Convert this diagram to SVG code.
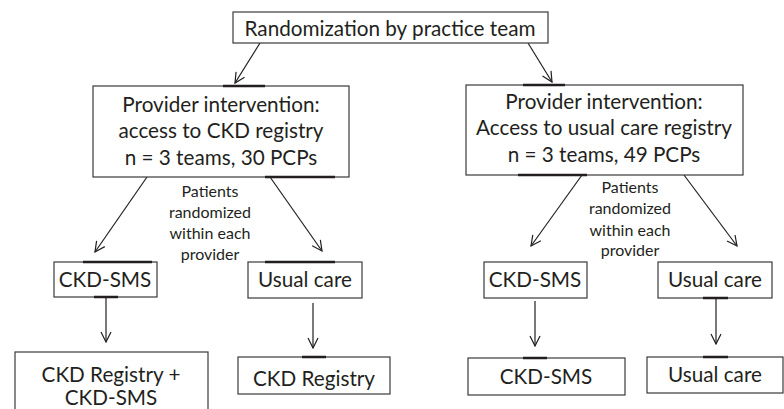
<svg xmlns="http://www.w3.org/2000/svg" width="784" height="409" viewBox="0 0 784 409">
<style>
.box{fill:#fff;stroke:#3a3a3a;stroke-width:1.2}
.t{font-family:Lato,"Liberation Sans",sans-serif;font-size:20.7px;fill:#231f20;text-anchor:middle}
.s{font-family:Lato,"Liberation Sans",sans-serif;font-size:16px;fill:#231f20;text-anchor:middle}
.c{stroke:#231f20;stroke-width:1.2;fill:none;marker-end:url(#ah)}
.dk{stroke:#231f20;stroke-width:2.5}
</style>
<defs>
<marker id="ah" viewBox="0 0 12 12" refX="11" refY="6" markerWidth="12" markerHeight="12" markerUnits="userSpaceOnUse" orient="auto">
<path d="M1,1 L11,6 L1,11" fill="none" stroke="#231f20" stroke-width="1.2"/>
</marker>
</defs>
<rect width="784" height="409" fill="#fff"/>
<g id="connectors">
<line class="c" x1="260" y1="43" x2="235" y2="83"/>
<line class="c" x1="528" y1="43" x2="552" y2="82"/>
<line class="c" x1="147" y1="177" x2="95" y2="252"/>
<line class="c" x1="270" y1="177" x2="322" y2="251"/>
<line class="c" x1="582" y1="175" x2="531" y2="246"/>
<line class="c" x1="684" y1="175" x2="737" y2="246"/>
<line class="c" x1="106" y1="297" x2="106" y2="342"/>
<line class="c" x1="313" y1="303" x2="313" y2="348"/>
<line class="c" x1="535" y1="301" x2="535" y2="346"/>
<line class="c" x1="716" y1="298" x2="716" y2="344"/>
</g>
<g id="randomization">
<rect class="box" x="233" y="12" width="315" height="31"/>
<text class="t" x="390" y="36">Randomization by practice team</text>
</g>
<g id="provider-ckd">
<rect class="box" x="93" y="86" width="256" height="91"/>
<line class="dk" x1="223" y1="86" x2="265" y2="86"/>
<line class="dk" x1="265" y1="177" x2="335" y2="177"/>
<text class="t" x="221" y="112">Provider intervention:</text>
<text class="t" x="221" y="138">access to CKD registry</text>
<text class="t" x="221" y="165">n = 3 teams, 30 PCPs</text>
</g>
<g id="label-left">
<text class="s" x="210" y="197">Patients</text>
<text class="s" x="210" y="218">randomized</text>
<text class="s" x="210" y="239">within each</text>
<text class="s" x="210" y="260">provider</text>
</g>
<g id="provider-usual">
<rect class="box" x="466" y="85" width="277" height="90"/>
<line class="dk" x1="523" y1="85" x2="565" y2="85"/>
<line class="dk" x1="518" y1="175" x2="587" y2="175"/>
<text class="t" x="604" y="109">Provider intervention:</text>
<text class="t" x="604" y="135">Access to usual care registry</text>
<text class="t" x="604" y="162">n = 3 teams, 49 PCPs</text>
</g>
<g id="label-right">
<text class="s" x="630" y="193">Patients</text>
<text class="s" x="630" y="214">randomized</text>
<text class="s" x="630" y="236">within each</text>
<text class="s" x="630" y="256">provider</text>
</g>
<g id="ckd-sms-left">
<rect class="box" x="54" y="262" width="103" height="35"/>
<line class="dk" x1="83" y1="262" x2="152" y2="262"/>
<line class="dk" x1="94" y1="297" x2="118" y2="297"/>
<text class="t" x="105" y="287">CKD-SMS</text>
</g>
<g id="usual-care-left">
<rect class="box" x="248" y="262" width="114" height="36"/>
<line class="dk" x1="265" y1="262" x2="335" y2="262"/>
<text class="t" x="305" y="287">Usual care</text>
</g>
<g id="ckd-registry-sms">
<rect class="box" x="15" y="352" width="193" height="70"/>
<text class="t" x="111" y="382">CKD Registry +</text>
<text class="t" x="111" y="405">CKD-SMS</text>
</g>
<g id="ckd-registry">
<rect class="box" x="238" y="357" width="152" height="37"/>
<line class="dk" x1="302" y1="357" x2="326" y2="357"/>
<text class="t" x="314" y="386">CKD Registry</text>
</g>
<g id="ckd-sms-right">
<rect class="box" x="484" y="262" width="103" height="36"/>
<text class="t" x="535" y="287">CKD-SMS</text>
</g>
<g id="usual-care-right">
<rect class="box" x="658" y="262" width="114" height="36"/>
<line class="dk" x1="703" y1="298" x2="728" y2="298"/>
<text class="t" x="715" y="287">Usual care</text>
</g>
<g id="ckd-sms-bottom">
<rect class="box" x="468" y="358" width="157" height="37"/>
<line class="dk" x1="523" y1="358" x2="547" y2="358"/>
<text class="t" x="546" y="384">CKD-SMS</text>
</g>
<g id="usual-care-bottom">
<rect class="box" x="647" y="357" width="136" height="36"/>
<line class="dk" x1="703" y1="357" x2="728" y2="357"/>
<text class="t" x="715" y="382">Usual care</text>
</g>
</svg>
